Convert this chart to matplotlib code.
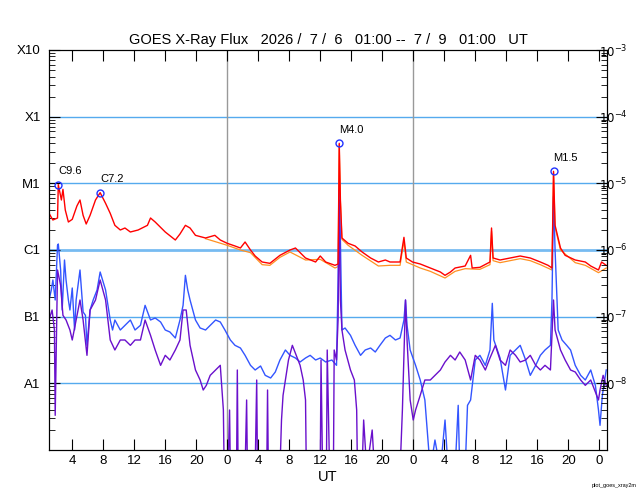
import numpy as np
import matplotlib
matplotlib.use("Agg")
import matplotlib.pyplot as plt
from matplotlib.ticker import FixedLocator, LogLocator, NullFormatter

plt.rcParams['font.family'] = ['Liberation Sans', 'DejaVu Sans']

# hours since 2026/7/6 01:00 UT, log10 of flux (W/m2)
long_t = [0.0, 0.5, 1.1, 1.2, 1.6, 1.8, 2.1, 2.5, 3.0, 3.6, 4.0, 4.4, 4.8, 5.3, 6.0, 6.6, 7.3, 7.9, 8.5, 9.2,
          9.8, 10.5, 11.5, 12.7, 13.1, 13.7, 15.0, 16.3, 16.9, 17.6, 18.2, 18.9, 20.2, 21.4, 22.1, 23.0, 24.0,
          24.7, 25.3, 26.0, 26.6, 27.5, 28.5, 29.8, 31.1, 31.8, 33.1, 34.4, 35.0, 35.7, 36.9, 37.3, 37.45,
          37.6, 37.8, 38.6, 39.5, 40.4, 41.5, 42.5, 43.4, 44.0, 45.3, 45.8, 46.1, 46.9, 47.9, 49.2, 50.5,
          51.1, 51.8, 52.4, 53.7, 54.4, 54.6, 55.6, 56.9, 57.1, 57.3, 58.2, 59.5, 60.8, 62.1, 63.4, 64.4,
          64.9, 65.1, 65.3, 66.0, 66.6, 67.9, 69.2, 69.9, 70.9, 71.3, 71.9]
long_log = [-5.45, -5.55, -5.52, -5.02, -5.25, -5.09, -5.40, -5.58, -5.54, -5.34, -5.25, -5.48, -5.61, -5.48,
            -5.25, -5.14, -5.30, -5.45, -5.63, -5.70, -5.67, -5.73, -5.70, -5.63, -5.52, -5.58, -5.73, -5.85,
            -5.76, -5.63, -5.67, -5.78, -5.82, -5.78, -5.85, -5.90, -5.94, -5.97, -5.88, -6.00, -6.09, -6.18,
            -6.20, -6.08, -6.00, -5.97, -6.12, -6.18, -6.09, -6.18, -6.23, -6.21, -4.40, -5.25, -5.82, -5.90,
            -5.94, -6.03, -6.12, -6.18, -6.15, -6.18, -6.18, -5.81, -6.12, -6.18, -6.21, -6.27, -6.33, -6.38,
            -6.33, -6.27, -6.24, -6.08, -6.27, -6.26, -6.18, -5.67, -6.12, -6.15, -6.12, -6.09, -6.12, -6.18,
            -6.23, -6.27, -4.82, -5.63, -5.97, -6.08, -6.15, -6.18, -6.24, -6.30, -6.18, -6.23]

long2_t = [20.2, 23, 24.7, 26.0, 27.5, 28.5, 29.8, 31.1, 33.1, 35, 36.9, 37.3, 37.45, 37.6, 37.8, 38.6, 40.4,
           42.5, 44.0, 45.3, 45.8, 46.1, 47.9, 49.2, 51.1, 52.4, 53.7, 55.6, 56.9, 57.1, 57.3, 58.2, 60.8,
           62.1, 63.4, 64.9, 65.1, 65.3, 66.0, 67.9, 69.2, 70.9, 71.9]
long2_log = [-5.83, -5.93, -6.00, -6.04, -6.22, -6.23, -6.11, -6.03, -6.15, -6.14, -6.27, -6.25, -4.42, -5.27,
             -5.84, -5.93, -6.08, -6.24, -6.23, -6.23, -5.86, -6.18, -6.27, -6.32, -6.42, -6.32, -6.28, -6.29,
             -6.22, -5.72, -6.16, -6.19, -6.13, -6.16, -6.22, -6.30, -4.84, -5.66, -6.00, -6.19, -6.23, -6.34,
             -6.27]

short_t = [0.0, 0.3, 0.5, 0.8, 1.1, 1.2, 1.5, 1.7, 2.0, 2.2, 2.5, 2.7, 3.0, 3.3, 3.5, 4.0, 4.4, 4.7, 4.9, 5.3,
           5.7, 6.2, 6.6, 7.3, 7.9, 8.2, 8.5, 9.2, 9.8, 10.5, 11.1, 11.8, 12.4, 13.1, 13.7, 14.4, 15.0, 15.6,
           16.3, 16.9, 17.3, 17.6, 17.9, 18.2, 18.9, 19.5, 20.2, 20.8, 21.5, 22.1, 22.7, 23.4, 24.0, 24.7,
           25.3, 26.0, 26.6, 27.3, 27.9, 28.6, 29.2, 29.8, 30.5, 31.1, 31.8, 32.4, 33.1, 33.7, 34.4, 35.0,
           35.7, 36.5, 37.1, 37.3, 37.45, 37.6, 37.8, 38.2, 38.9, 39.5, 40.2, 40.8, 41.5, 42.1, 42.7, 43.4,
           44.0, 44.7, 45.3, 45.8, 46.0, 46.2, 46.6, 47.3, 47.9, 48.5, 48.9, 49.2, 49.8, 50.5, 51.1, 51.5,
           52.4, 52.8, 53.0, 53.7, 54.0, 54.4, 55.0, 55.6, 56.3, 56.9, 57.2, 57.4, 58.2, 58.9, 59.5, 60.8,
           61.5, 62.1, 62.8, 63.4, 64.0, 64.7, 64.9, 65.1, 65.3, 65.7, 66.2, 66.8, 67.3, 67.9, 68.6, 69.2,
           69.9, 70.5, 70.9, 71.1, 71.4, 71.9]
short_log = [-6.75, -6.60, -6.45, -6.75, -5.93, -5.91, -6.30, -6.90, -6.15, -6.45, -6.75, -6.90, -6.57, -7.20,
             -6.75, -6.30, -6.93, -6.98, -7.43, -6.90, -6.75, -6.60, -6.33, -6.60, -7.05, -7.20, -7.05, -7.20,
             -7.13, -7.05, -7.20, -7.13, -6.83, -7.05, -7.02, -7.08, -7.20, -7.23, -7.32, -7.05, -6.83, -6.38,
             -6.60, -6.75, -7.05, -7.17, -7.20, -7.13, -7.05, -7.08, -7.20, -7.35, -7.43, -7.47, -7.58, -7.73,
             -7.80, -7.74, -7.88, -7.92, -7.83, -7.65, -7.50, -7.58, -7.62, -7.68, -7.62, -7.58, -7.65, -7.62,
             -7.68, -7.65, -7.73, -6.45, -5.10, -5.85, -7.20, -7.17, -7.28, -7.43, -7.58, -7.50, -7.47, -7.53,
             -7.43, -7.32, -7.28, -7.35, -7.32, -7.05, -6.75, -7.13, -7.50, -7.73, -7.95, -8.25, -8.85, -9.3,
             -8.85, -9.3, -8.55, -9.3, -9.3, -8.33, -9.3, -9.3, -8.33, -8.25, -7.65, -7.58, -7.73, -7.50,
             -6.80, -7.35, -7.62, -8.10, -7.58, -7.43, -7.65, -7.88, -7.73, -7.58, -7.50, -7.43, -6.75, -5.20,
             -6.00, -7.20, -7.35, -7.43, -7.50, -7.73, -7.88, -7.95, -7.80, -8.03, -8.40, -8.63, -8.18, -7.80]

short2_t = [0.0, 0.4, 0.7, 0.8, 1.1, 1.5, 1.8, 2.2, 2.7, 3.0, 3.5, 4.0, 4.4, 4.9, 5.3, 6.0, 6.6, 7.3, 7.9, 8.5,
            9.2, 9.8, 10.5, 11.1, 11.8, 12.4, 13.1, 13.7, 14.4, 15.0, 15.6, 16.3, 16.9, 17.3, 17.7, 18.2, 18.9,
            19.5, 19.9, 20.3, 20.8, 21.5, 22.1, 22.5, 22.6, 23.1, 23.3, 23.4, 24.2, 24.3, 24.4, 25.3, 25.5,
            25.6, 26.6, 26.8, 26.9, 28.1, 28.2, 28.3, 29.8, 30.0, 30.2, 30.9, 31.4, 31.9, 32.4, 32.8, 33.1,
            33.2, 35.0, 35.1, 35.3, 35.8, 35.9, 36.2, 36.7, 36.8, 37.1, 37.3, 37.45, 37.6, 37.8, 38.2, 38.9,
            39.4, 39.7, 39.8, 40.4, 40.6, 41.0, 41.7, 42.0, 45.3, 45.6, 46.0, 46.2, 46.6, 47.0, 47.3, 47.9,
            48.5, 49.2, 49.8, 50.5, 51.1, 51.8, 52.4, 53.0, 53.7, 54.4, 55.0, 55.6, 56.3, 56.9, 57.6, 58.2,
            58.9, 59.5, 60.2, 60.8, 61.5, 62.1, 62.8, 63.4, 64.0, 64.7, 65.1, 65.3, 66.0, 66.6, 67.3, 67.9,
            68.6, 69.2, 69.9, 70.5, 70.9, 71.1, 71.5, 71.9]
short2_log = [-7.05, -6.90, -7.20, -8.48, -6.30, -6.53, -6.98, -7.05, -7.20, -7.35, -7.05, -6.75, -7.05, -7.58,
              -6.90, -6.75, -6.45, -6.75, -7.35, -7.50, -7.35, -7.35, -7.43, -7.35, -7.35, -7.05, -7.28, -7.50,
              -7.73, -7.58, -7.65, -7.50, -7.35, -6.90, -6.90, -7.43, -7.80, -7.95, -8.10, -8.03, -7.88, -7.80,
              -7.73, -8.40, -9.3, -9.3, -8.40, -9.3, -9.3, -7.80, -9.3, -9.3, -8.25, -9.3, -9.3, -7.95, -9.3,
              -9.3, -8.10, -9.3, -9.3, -8.55, -8.18, -7.65, -7.43, -7.58, -7.73, -7.95, -8.25, -9.3, -9.3,
              -7.65, -9.3, -9.3, -7.50, -9.3, -9.3, -7.50, -7.65, -7.05, -5.25, -6.75, -7.20, -7.50, -7.80,
              -7.95, -8.40, -9.3, -9.3, -8.55, -9.3, -8.70, -9.3, -9.3, -8.40, -6.75, -7.35, -8.25, -8.55, -8.40,
              -8.18, -7.95, -7.95, -7.88, -7.80, -7.68, -7.58, -7.65, -7.53, -7.65, -7.95, -7.58, -7.65, -7.80,
              -7.62, -7.43, -7.65, -7.73, -7.50, -7.58, -7.68, -7.65, -7.58, -7.73, -7.80, -7.73, -7.80, -6.75,
              -7.20, -7.50, -7.65, -7.80, -7.83, -7.95, -8.03, -7.95, -8.13, -8.25, -8.10, -7.88, -8.03]

flare_t = [1.2, 6.6, 37.45, 65.1]
flare_log = [-5.02, -5.14, -4.40, -4.82]
flare_names = ['C9.6', 'C7.2', 'M4.0', 'M1.5']

class_labels = ['X10', 'X1', 'M1', 'C1', 'B1', 'A1']
right_labels = [r'$10^{-3}$', r'$10^{-4}$', r'$10^{-5}$', r'$10^{-6}$', r'$10^{-7}$', r'$10^{-8}$']
levels = [1e-3, 1e-4, 1e-5, 1e-6, 1e-7, 1e-8]

fig = plt.figure(figsize=(6.4, 5.0), dpi=100)
ax = fig.add_axes([49 / 640, 0.1, 558 / 640, 0.8])
ax.set_yscale('log')
ax.set_xlim(0, 72)
ax.set_ylim(1e-9, 1e-3)

for lv in levels[1:]:
    ax.axhline(lv, color='#55aaee', lw=2.0 if lv == 1e-6 else 1.0, zorder=1, alpha=0.8 if lv == 1e-6 else 1)
for d in [23, 47]:
    ax.axvline(d, color='#999999', lw=1.0, zorder=1)

ax.plot(long2_t, 10 ** np.array(long2_log), color='#ff9020', lw=0.9, zorder=2)
ax.plot(long_t, 10 ** np.array(long_log), color='#ff0000', lw=1.0, zorder=3)
ax.plot(short_t, 10 ** np.array(short_log), color='#3355ff', lw=1.0, zorder=2)
ax.plot(short2_t, 10 ** np.array(short2_log), color='#6a10cc', lw=1.0, zorder=2)

ax.plot(flare_t, 10 ** np.array(flare_log), 'o', mfc='none', mec='#2233ff', ms=5, mew=1.0, zorder=4)
for t, v, name in zip(flare_t, flare_log, flare_names):
    ax.annotate(name, (t, 10 ** v), xytext=(0, 6), textcoords='offset points', fontsize=8,
                ha='left', va='bottom')

hours = np.arange(0, 73)
major = [h for h in hours if (h + 1) % 4 == 0]
ax.xaxis.set_major_locator(FixedLocator(major))
ax.set_xticklabels([str((h + 1) % 24) for h in major])
ax.tick_params(axis='x', which='major', direction='in', length=8, top=True, labelsize=9.5)
ax.tick_params(axis='x', which='minor', length=0)

ax.yaxis.set_major_locator(FixedLocator(levels))
ax.set_yticklabels(class_labels)
ax.yaxis.set_minor_locator(LogLocator(base=10, subs=np.arange(2, 10)))
ax.yaxis.set_minor_formatter(NullFormatter())
ax.tick_params(axis='y', which='major', direction='in', length=8, labelsize=9.5, pad=6)
ax.tick_params(axis='y', which='minor', direction='in', length=4)

ax2 = ax.twinx()
ax2.set_yscale('log')
ax2.set_ylim(1e-9, 1e-3)
ax2.yaxis.set_major_locator(FixedLocator(levels))
ax2.set_yticklabels(right_labels)
ax2.yaxis.set_minor_locator(LogLocator(base=10, subs=np.arange(2, 10)))
ax2.yaxis.set_minor_formatter(NullFormatter())
ax2.tick_params(axis='y', which='major', direction='in', length=8, labelsize=8.5, pad=-6)
ax2.tick_params(axis='y', which='minor', direction='in', length=4)

ax.set_xlabel('UT', fontsize=10.5, labelpad=2)
ax.set_title('GOES X-Ray Flux   2026 /  7 /  6   01:00 --  7 /  9   01:00   UT', fontsize=10.5, pad=4)
fig.text(0.995, 0.025, 'plot_goes_xray2m', fontsize=4, ha='right')

fig.savefig('out.png', dpi=100)
